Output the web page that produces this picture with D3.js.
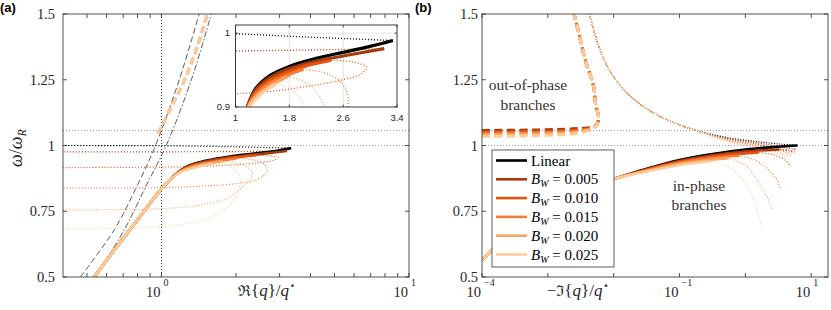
<!DOCTYPE html>
<html>
<head>
<meta charset="UTF-8">
<script src="https://d3js.org/d3.v7.min.js"></script>
<style>
  body { margin: 0; background: #fff; }
  svg text { font-family: "Liberation Serif", "Times New Roman", serif; fill: #262626; }
</style>
</head>
<body>
<svg id="chart" width="831" height="310"></svg>
<script>
// series: linear + 5 values of B_W
const names = ["Linear", "0.005", "0.010", "0.015", "0.020", "0.025"];
const colors = ["#000000", "#a53b0c", "#e5520d", "#f47d33", "#f9a562", "#fdcb98"];
const yTicks = [0.5, 0.75, 1, 1.25, 1.5];
const refLevels = [1, 1.057];

// (a) Re{q}/q* : shared lower part of the in-phase branch
const reLower = [[0.535, 0.5], [0.627, 0.588], [0.735, 0.672], [0.861, 0.757], [1.0, 0.835], [1.09, 0.873]];
const reUpper = [
  [[1.175, 0.9], [1.3, 0.925], [1.5, 0.942], [1.8, 0.955], [2.2, 0.966], [2.6, 0.974], [3.0, 0.982], [3.34, 0.99]],
  [[1.175, 0.9], [1.3, 0.923], [1.5, 0.939], [1.8, 0.952], [2.2, 0.962], [2.6, 0.969], [3.21, 0.979]],
  [[1.18, 0.9], [1.3, 0.92], [1.5, 0.935], [1.8, 0.948], [2.1, 0.957], [2.42, 0.963]],
  [[1.185, 0.9], [1.3, 0.917], [1.5, 0.932], [1.8, 0.944], [2.01, 0.951]],
  [[1.19, 0.9], [1.3, 0.914], [1.5, 0.928], [1.77, 0.941]],
  [[1.2, 0.9], [1.3, 0.911], [1.45, 0.923], [1.61, 0.931]]
];
const reDotted = [
  [[3.34, 0.99], [2, 0.995], [1, 0.999], [0.4, 1.0]],
  [[3.21, 0.979], [2, 0.977], [1, 0.976], [0.4, 0.976]],
  [[2.42, 0.963], [2.75, 0.961], [2.95, 0.954], [2.85, 0.944], [2.5, 0.935], [2.0, 0.927], [1.5, 0.921], [1.0, 0.918], [0.4, 0.916]],
  [[2.01, 0.951], [2.3, 0.947], [2.55, 0.935], [2.67, 0.915], [2.65, 0.895], [2.45, 0.872], [2.0, 0.855], [1.5, 0.846], [1.0, 0.84], [0.4, 0.838]],
  [[1.77, 0.941], [2.0, 0.935], [2.2, 0.92], [2.32, 0.9], [2.3, 0.875], [2.15, 0.845], [1.85, 0.8], [1.4, 0.772], [1.0, 0.76], [0.4, 0.755]],
  [[1.61, 0.931], [1.8, 0.925], [1.97, 0.91], [2.06, 0.89], [2.08, 0.86], [1.98, 0.8], [1.7, 0.74], [1.3, 0.705], [1.0, 0.692], [0.4, 0.682]]
];
// out-of-phase branch seen in Re (all B_W nearly on top of each other)
const reOut = [[0.968, 1.045], [1.1, 1.15], [1.24, 1.25], [1.4, 1.38], [1.53, 1.5]];
const dispDashed = [[0.47, 0.5], [0.645, 0.68], [0.8, 0.85], [0.946, 1.0], [1.18, 1.25], [1.42, 1.5]];
const dispDashDot = [[0.54, 0.5], [0.708, 0.68], [0.87, 0.85], [1.045, 1.0], [1.32, 1.25], [1.59, 1.5]];

// (b) -Im{q}/q*
const imLower = [[1e-4, 0.565], [2e-4, 0.64], [5e-4, 0.72], [1e-3, 0.765], [3e-3, 0.83], [0.01, 0.873]];
const imUpper = [
  [[0.03, 0.91], [0.1, 0.945], [0.3, 0.967], [1, 0.985], [3, 0.995], [6.2, 1.0]],
  [[0.03, 0.908], [0.1, 0.941], [0.3, 0.962], [1, 0.977], [3.3, 0.985]],
  [[0.03, 0.906], [0.1, 0.938], [0.3, 0.957], [0.8, 0.968], [1.6, 0.974]],
  [[0.03, 0.904], [0.1, 0.934], [0.3, 0.952], [0.8, 0.961]],
  [[0.03, 0.902], [0.1, 0.93], [0.3, 0.946], [0.55, 0.952]],
  [[0.03, 0.9], [0.1, 0.926], [0.3, 0.94]]
];
const imDotLow = [
  [],
  [[3.3, 0.985], [4.5, 0.983], [5.5, 0.977]],
  [[1.6, 0.974], [2.8, 0.963], [4.0, 0.945], [4.9, 0.92]],
  [[0.8, 0.961], [1.4, 0.945], [2.2, 0.91], [3.0, 0.87], [3.4, 0.838]],
  [[0.55, 0.952], [1.0, 0.925], [1.5, 0.87], [2.1, 0.81], [2.57, 0.755]],
  [[0.3, 0.94], [0.55, 0.92], [0.85, 0.876], [1.34, 0.793], [1.8, 0.679]]
];
const imDotHighTop = [[0.0043, 1.5], [0.0071, 1.326], [0.0158, 1.2], [0.051, 1.11], [0.166, 1.06]];
const imDotHighTail = [
  [[0.53, 1.03], [1.5, 1.015], [3.5, 1.005], [6.2, 1.0]],
  [[0.53, 1.027], [1.5, 1.01], [3.5, 0.995], [5.8, 0.985]],
  [[0.53, 1.024], [1.5, 1.005], [3.5, 0.985], [5.6, 0.975]],
  [[0.53, 1.021], [1.5, 1.0], [3.5, 0.98], [5.3, 0.968]],
  [[0.53, 1.018], [1.5, 0.995], [3.2, 0.975], [5.0, 0.96]],
  [[0.53, 1.015], [1.5, 0.99], [3.0, 0.97], [4.6, 0.955]]
];
const imOut = [
  [[1e-4, 1.057], [1e-3, 1.06], [3e-3, 1.065], [0.0052, 1.073], [0.0059, 1.098], [0.0053, 1.16], [0.00495, 1.225], [0.0037, 1.326], [0.00295, 1.428], [0.0025, 1.5]],
  [[1e-4, 1.051], [1e-3, 1.054], [3e-3, 1.06], [0.0052, 1.072], [0.0059, 1.098], [0.0053, 1.16], [0.00495, 1.225], [0.0037, 1.326], [0.00295, 1.428], [0.0025, 1.5]],
  [[1e-4, 1.046], [1e-3, 1.049], [3e-3, 1.056], [0.0052, 1.071], [0.0059, 1.098], [0.0053, 1.16], [0.00495, 1.225], [0.0037, 1.326], [0.00295, 1.428], [0.0025, 1.5]],
  [[1e-4, 1.04], [1e-3, 1.044], [3e-3, 1.052], [0.0052, 1.07], [0.0059, 1.098], [0.0053, 1.16], [0.00495, 1.225], [0.0037, 1.326], [0.00295, 1.428], [0.0025, 1.5]],
  [[1e-4, 1.035], [1e-3, 1.039], [3e-3, 1.048], [0.0052, 1.069], [0.0059, 1.098], [0.0053, 1.16], [0.00495, 1.225], [0.0037, 1.326], [0.00295, 1.428], [0.0025, 1.5]]
];

const svg = d3.select("#chart").attr("font-family", "Liberation Serif, Times New Roman, serif");
const defs = svg.append("defs");
const axisCol = "#262626";

const yS = d3.scaleLinear().domain([0.5, 1.5]).range([277, 14]);
const xA = d3.scaleLog().domain([0.4, 10]).range([63, 409]);
const xB = d3.scaleLog().domain([1e-4, 18]).range([482, 828]);
const xI = d3.scaleLinear().domain([1, 3.4]).range([235.5, 397]);
const yI = d3.scaleLinear().domain([0.9, 1.011]).range([107, 25]);

function lineGen(xs, ys) {
  return d3.line().x(d => xs(d[0])).y(d => ys(d[1])).curve(d3.curveCatmullRom.alpha(0.5));
}

function addClip(id, x, y, w, h) {
  defs.append("clipPath").attr("id", id).append("rect")
    .attr("x", x).attr("y", y).attr("width", w).attr("height", h);
}

function drawPath(g, data, gen, color, width, dash) {
  g.append("path").datum(data).attr("d", gen)
    .attr("fill", "none").attr("stroke", color).attr("stroke-width", width)
    .attr("stroke-dasharray", dash || null).attr("stroke-linejoin", "round");
}

function frame(g, xs, ys, w) {
  const [x0, x1] = xs.range(), [y1, y0] = ys.range();
  g.append("rect").attr("x", x0).attr("y", y0).attr("width", x1 - x0).attr("height", y1 - y0)
    .attr("fill", "none").attr("stroke", axisCol).attr("stroke-width", w || 0.8);
}

function ticksX(g, xs, ys, vals, len) {
  const [y1, y0] = ys.range();
  vals.forEach(v => {
    const x = xs(v);
    g.append("line").attr("x1", x).attr("x2", x).attr("y1", y1).attr("y2", y1 - len).attr("stroke", axisCol).attr("stroke-width", 0.8);
    g.append("line").attr("x1", x).attr("x2", x).attr("y1", y0).attr("y2", y0 + len).attr("stroke", axisCol).attr("stroke-width", 0.8);
  });
}

function ticksY(g, xs, ys, vals, len) {
  const [x0, x1] = xs.range();
  vals.forEach(v => {
    const y = ys(v);
    g.append("line").attr("x1", x0).attr("x2", x0 + len).attr("y1", y).attr("y2", y).attr("stroke", axisCol).attr("stroke-width", 0.8);
    g.append("line").attr("x1", x1).attr("x2", x1 - len).attr("y1", y).attr("y2", y).attr("stroke", axisCol).attr("stroke-width", 0.8);
  });
}

function yLabels(g, xRight, ys) {
  yTicks.forEach(v => {
    g.append("text").attr("x", xRight).attr("y", ys(v)).attr("dy", "0.35em")
      .attr("text-anchor", "end").style("font-size", "14.5px").text(String(v));
  });
}

function logLabel(g, x, exp) {
  g.append("text").attr("x", x - 1).attr("y", 297).attr("text-anchor", "end")
    .style("font-size", "14.5px").text("10");
  g.append("text").attr("x", x + 2).attr("y", 286).style("font-size", "10px").text(exp);
}

function refLines(g, xs, ys) {
  refLevels.forEach(v => {
    g.append("line").attr("x1", xs.range()[0]).attr("x2", xs.range()[1])
      .attr("y1", ys(v)).attr("y2", ys(v))
      .attr("stroke", "#9a9a9a").attr("stroke-width", 1).attr("stroke-dasharray", "1,2");
  });
}

// ---------------- panel (a) ----------------
addClip("clipA", 63, 14, 346, 263);
const gA = svg.append("g");
const pA = gA.append("g").attr("clip-path", "url(#clipA)");
const lA = lineGen(xA, yS);

refLines(pA, xA, yS);
pA.append("line").attr("x1", xA(1)).attr("x2", xA(1)).attr("y1", 14).attr("y2", 277)
  .attr("stroke", "#333").attr("stroke-width", 1).attr("stroke-dasharray", "1,2");
drawPath(pA, dispDashed, lA, "#333", 0.8, "6,3");
drawPath(pA, dispDashDot, lA, "#333", 0.8, "6,2,1.5,2");

reDotted.forEach((d, i) => drawPath(pA, d, lA, colors[i], 1.2, "1,2"));
names.forEach((n, i) => drawPath(pA, reLower.concat(reUpper[i]), lA, colors[i], 2.6));
[3, 5].forEach(i => drawPath(pA, reOut, lA, colors[i], 3, "7,4"));

frame(gA, xA, yS);
ticksY(gA, xA, yS, yTicks, 4);
ticksX(gA, xA, yS, [0.5, 0.6, 0.7, 0.8, 0.9, 1, 2, 3, 4, 5, 6, 7, 8, 9, 10], 4);
yLabels(gA, 55, yS);
logLabel(gA, xA(1), "0");
logLabel(gA, xA(10), "1");

// x label (a)
const xlA = gA.append("text").attr("x", 267).attr("y", 296).attr("text-anchor", "middle").style("font-size", "17px");
xlA.append("tspan").style("font-family", "DejaVu Serif").style("font-size", "15px").text("ℜ");
xlA.append("tspan").text("{");
xlA.append("tspan").style("font-style", "italic").text("q");
xlA.append("tspan").text("}/");
xlA.append("tspan").style("font-style", "italic").text("q");
xlA.append("tspan").attr("dy", -7).style("font-size", "11px").style("font-family", "DejaVu Sans").text("⋆");

// y label
const ylA = gA.append("text").attr("transform", "translate(22,148) rotate(-90)")
  .attr("text-anchor", "middle").style("font-size", "18px");
ylA.append("tspan").style("font-style", "italic").text("ω");
ylA.append("tspan").text("/");
ylA.append("tspan").style("font-style", "italic").text("ω");
ylA.append("tspan").attr("dy", 4).style("font-style", "italic").style("font-size", "12px").text("R");

gA.append("text").attr("x", 0).attr("y", 12).style("font-family", "Liberation Sans, Arial, sans-serif")
  .style("font-weight", "bold").style("font-size", "13px").style("fill", "#000").text("(a)");

// inset
addClip("clipI", 235.5, 25, 161.5, 82);
const gI = svg.append("g");
gI.append("rect").attr("x", 235.5).attr("y", 25).attr("width", 161.5).attr("height", 82).attr("fill", "#fff");
const pI = gI.append("g").attr("clip-path", "url(#clipI)");
[1.8, 2.6].forEach(v => pI.append("line").attr("x1", xI(v)).attr("x2", xI(v)).attr("y1", 25).attr("y2", 107)
  .attr("stroke", "#dcdcdc").attr("stroke-width", 0.8));
pI.append("line").attr("x1", 235.5).attr("x2", 397).attr("y1", yI(1)).attr("y2", yI(1))
  .attr("stroke", "#dcdcdc").attr("stroke-width", 0.8);
const lI = lineGen(xI, yI);
reDotted.forEach((d, i) => drawPath(pI, d, lI, colors[i], 1.3, "1,2"));
names.forEach((n, i) => drawPath(pI, reLower.concat(reUpper[i]), lI, colors[i], 3.2));
frame(gI, xI, yI, 0.9);
ticksX(gI, xI, yI, [1, 1.8, 2.6, 3.4], 2.5);
ticksY(gI, xI, yI, [0.9, 1], 2.5);
[["0.9", 0.9], ["1", 1]].forEach(([t, v]) => gI.append("text").attr("x", 230).attr("y", yI(v)).attr("dy", "0.35em")
  .attr("text-anchor", "end").style("font-family", "Liberation Sans, Arial, sans-serif").style("font-size", "9.5px").text(t));
[["1", 1], ["1.8", 1.8], ["2.6", 2.6], ["3.4", 3.4]].forEach(([t, v]) => gI.append("text").attr("x", xI(v)).attr("y", 121)
  .attr("text-anchor", "middle").style("font-family", "Liberation Sans, Arial, sans-serif").style("font-size", "9.5px").text(t));

// ---------------- panel (b) ----------------
addClip("clipB", 482, 14, 346, 263);
const gB = svg.append("g");
const pB = gB.append("g").attr("clip-path", "url(#clipB)");
const lB = lineGen(xB, yS);

refLines(pB, xB, yS);
names.forEach((n, i) => drawPath(pB, imDotHighTop.concat(imDotHighTail[i]), lB, colors[i], 1.2, "1,1.6"));
imDotLow.forEach((d, i) => { if (d.length) drawPath(pB, d, lB, colors[i], 1.2, "1,2"); });
names.forEach((n, i) => drawPath(pB, imLower.concat(imUpper[i]), lB, colors[i], 2.6));
imOut.forEach((d, i) => drawPath(pB, d, lB, colors[i + 1], 3, "8,4.5"));

frame(gB, xB, yS);
ticksY(gB, xB, yS, yTicks, 4);
ticksX(gB, xB, yS, [1e-4, 1e-3, 1e-2, 1e-1, 1, 10], 4);
yLabels(gB, 478, yS);
logLabel(gB, xB(1e-4), "−4");
logLabel(gB, xB(1e-1), "−1");
logLabel(gB, xB(10), "1");

const xlB = gB.append("text").attr("x", 578).attr("y", 296).attr("text-anchor", "middle").style("font-size", "17px");
xlB.append("tspan").text("−");
xlB.append("tspan").style("font-family", "DejaVu Serif").style("font-size", "15px").text("ℑ");
xlB.append("tspan").text("{");
xlB.append("tspan").style("font-style", "italic").text("q");
xlB.append("tspan").text("}/");
xlB.append("tspan").style("font-style", "italic").text("q");
xlB.append("tspan").attr("dy", -7).style("font-size", "11px").style("font-family", "DejaVu Sans").text("⋆");

gB.append("text").attr("x", 415).attr("y", 12).style("font-family", "Liberation Sans, Arial, sans-serif")
  .style("font-weight", "bold").style("font-size", "13px").style("fill", "#000").text("(b)");

// annotations
[["out-of-phase", 528, 90], ["branches", 528, 110], ["in-phase", 699, 191], ["branches", 699, 210]]
  .forEach(([t, x, y]) => gB.append("text").attr("x", x).attr("y", y).attr("text-anchor", "middle")
    .style("font-size", "15.5px").style("fill", "#333").text(t));

// legend
const leg = gB.append("g");
leg.append("rect").attr("x", 492).attr("y", 150).attr("width", 122).attr("height", 117)
  .attr("fill", "#fff").attr("stroke", "#333").attr("stroke-width", 0.8);
names.forEach((n, i) => {
  const y = 160.5 + i * 18.8;
  leg.append("line").attr("x1", 496).attr("x2", 527).attr("y1", y).attr("y2", y)
    .attr("stroke", colors[i]).attr("stroke-width", 2.6);
  const t = leg.append("text").attr("x", 531).attr("y", y + 5).style("font-size", "15px").style("fill", "#000");
  if (i === 0) { t.text(n); return; }
  t.append("tspan").style("font-style", "italic").text("B");
  t.append("tspan").attr("dy", 3).style("font-style", "italic").style("font-size", "10px").text("W");
  t.append("tspan").attr("dy", -3).text(" = " + n);
});
</script>
</body>
</html>
